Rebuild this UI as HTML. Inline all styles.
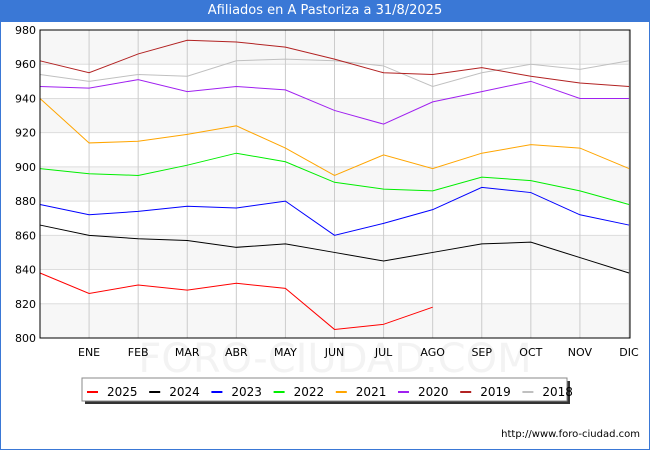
<!DOCTYPE html>
<html><head><meta charset="utf-8"><style>
body{margin:0;width:650px;height:450px;background:#fff;font-family:"DejaVu Sans","Liberation Sans",sans-serif;position:relative;overflow:hidden}
#frame{position:absolute;left:0;top:0;width:648px;height:448px;border:1px solid #3a78d6}
#title{position:absolute;left:0;top:0;width:650px;height:22px;background:#3a78d6;color:#fff;font-size:13px;text-align:center;line-height:22px}
svg{position:absolute;left:0;top:0}
</style></head><body>
<div id="frame"></div>
<div id="title">Afiliados en A Pastoriza a 31/8/2025</div>
<svg id="chart" width="650" height="450"></svg>
<script>
const months=["","ENE","FEB","MAR","ABR","MAY","JUN","JUL","AGO","SEP","OCT","NOV","DIC"];
const yTicks=[800,820,840,860,880,900,920,940,960,980];
const seriesNames=["2025","2024","2023","2022","2021","2020","2019","2018"];
const seriesColors=["#ff0000","#000000","#0000ff","#00ee00","#ffa500","#a020f0","#b22222","#c0c0c0"];
const s2025=[838,826,831,828,832,829,805,808,818];
const s2024=[866,860,858,857,853,855,850,845,850,855,856,847,838];
const s2023=[878,872,874,877,876,880,860,867,875,888,885,872,866];
const s2022=[899,896,895,901,908,903,891,887,886,894,892,886,878];
const s2021=[940,914,915,919,924,911,895,907,899,908,913,911,899];
const s2020=[947,946,951,944,947,945,933,925,938,944,950,940,940];
const s2019=[962,955,966,974,973,970,963,955,954,958,953,949,947];
const s2018=[954,950,954,953,962,963,962,959,947,955,960,957,962];
const allSeries=[s2025,s2024,s2023,s2022,s2021,s2020,s2019,s2018];

const svg=document.getElementById('chart');
const NS="http://www.w3.org/2000/svg";
const L=40,R=629,T=30,B=338,yMin=800,yMax=980;
const x=i=>L+i*(R-L)/12;
const y=v=>B-(v-yMin)*(B-T)/(yMax-yMin);
function mk(tag,attrs,parent){const e=document.createElementNS(NS,tag);for(const k in attrs)e.setAttribute(k,attrs[k]);(parent||svg).appendChild(e);return e;}

for(let i=0;i<yTicks.length-1;i++){
  if((yTicks.length-2-i)%2===0){
    const b=mk('rect',{x:L,y:y(yTicks[i+1]),width:R-L,height:y(yTicks[i])-y(yTicks[i+1]),fill:'#f7f7f7'});
    
    
  }
}
yTicks.forEach(v=>{
  const g=mk('line',{x1:L,x2:R,y1:y(v),y2:y(v),stroke:'#dddddd','stroke-width':1});
  
  
  const t=mk('text',{x:L-4,y:y(v)+4,'text-anchor':'end','font-size':11,fill:'#000'});
  t.textContent=v;
  
  
});
const wm=mk('text',{x:335,y:372,'text-anchor':'middle','font-size':40,fill:'#f3f3f3'});
wm.textContent='FORO-CIUDAD.COM';


months.forEach((m,i)=>{
  if(i>0){
    const g=mk('line',{x1:x(i),x2:x(i),y1:T,y2:B,stroke:'#cccccc','stroke-width':1});
    
    
  }
  const t=mk('text',{x:x(i),y:B+18,'text-anchor':'middle','font-size':11,fill:'#000'});
  t.textContent=m;
  
  
});

for(let s=allSeries.length-1;s>=0;s--){
  const pts=allSeries[s].map((v,i)=>x(i)+','+y(v)).join(' ');
  const p=mk('polyline',{points:pts,fill:'none',stroke:seriesColors[s],'stroke-width':1});
  
  
}
const ax=mk('path',{d:`M${L} ${T}H${R+1}V${B}H${L}Z`,fill:'none',stroke:'#000','stroke-width':1});



const lg=mk('g',{});


mk('rect',{x:85,y:381,width:485,height:23,fill:'#333'},lg);
mk('rect',{x:82,y:378,width:485,height:23,fill:'#fff',stroke:'#888'},lg);
seriesNames.forEach((n,i)=>{
  const ex=87+i*62.2;
  const g=mk('g',{},lg);
  
  
  mk('line',{x1:ex,x2:ex+11,y1:392,y2:392,stroke:seriesColors[i],'stroke-width':2},g);
  const t=mk('text',{x:ex+20,y:396,'font-size':12,fill:'#000'},g);
  t.textContent=n;
});
const src=mk('text',{x:640,y:437,'text-anchor':'end','font-size':10,fill:'#000'});
src.textContent='http://www.foro-ciudad.com';


</script>
</body></html>
